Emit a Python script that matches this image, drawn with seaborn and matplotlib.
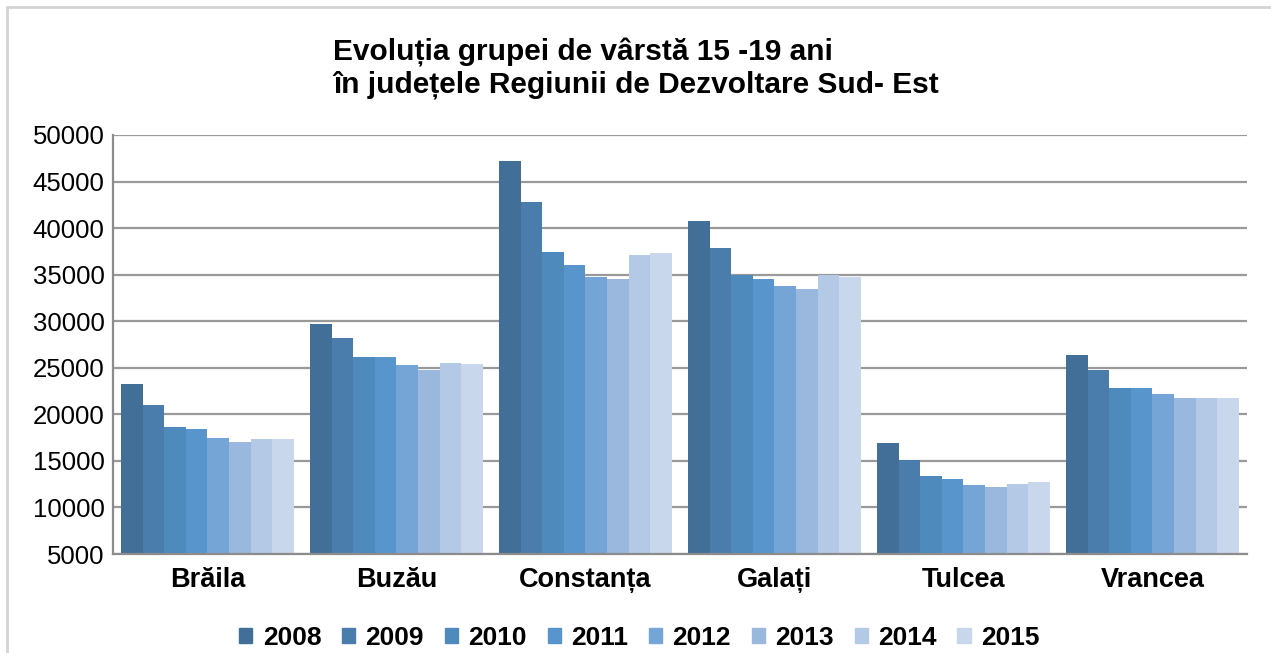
import pandas as pd
import matplotlib.pyplot as plt
import seaborn as sns
from matplotlib.patches import Rectangle

counties = ['Brăila', 'Buzău', 'Constanța', 'Galați', 'Tulcea', 'Vrancea']
years = ['2008', '2009', '2010', '2011', '2012', '2013', '2014', '2015']

braila = [23300, 21050, 18600, 18400, 17500, 17000, 17400, 17300]
buzau = [29750, 28250, 26200, 26200, 25250, 24750, 25550, 25450]
constanta = [47200, 42800, 37450, 36050, 34800, 34550, 37150, 37350]
galati = [40800, 37900, 35000, 34550, 33800, 33500, 34950, 34800]
tulcea = [16900, 15050, 13350, 13050, 12400, 12200, 12500, 12700]
vrancea = [26400, 24800, 22800, 22800, 22150, 21700, 21800, 21800]

colors = ['#416f98', '#4a7dab', '#4f8abd', '#5895cc',
          '#74a5d6', '#9ab8de', '#b4c9e5', '#c9d7ed']

values = [braila, buzau, constanta, galati, tulcea, vrancea]
rows = []
for county, vals in zip(counties, values):
    for year, v in zip(years, vals):
        rows.append({'Judet': county, 'An': year, 'Populatie': v})
df = pd.DataFrame(rows)

sns.set_style('white')
plt.rcParams['font.family'] = ['Liberation Sans', 'DejaVu Sans']
plt.rcParams['text.color'] = 'black'
plt.rcParams['xtick.color'] = 'black'
plt.rcParams['ytick.color'] = 'black'

fig = plt.figure(figsize=(12.71, 6.53), dpi=100)
ax = fig.add_axes([0.0889, 0.1516, 0.8922, 0.6417])

sns.barplot(data=df, x='Judet', y='Populatie', hue='An', palette=colors,
            width=0.915, gap=0, linewidth=0, saturation=1, ax=ax)

ax.set_ylim(5000, 50000)
ax.set_yticks(range(5000, 50001, 5000))
ax.set_yticklabels([str(t) for t in range(5000, 50001, 5000)], fontsize=18.5)
ax.set_xlim(-0.5, len(counties) - 0.5)
ax.set_xlabel('')
ax.set_ylabel('')
ax.tick_params(axis='x', labelsize=19.5, length=0, pad=9)
ax.tick_params(axis='y', length=0, pad=6)
for lbl in ax.get_xticklabels():
    lbl.set_fontweight('bold')

ax.yaxis.grid(True, color='#999999', linewidth=1.6)
ax.set_axisbelow(True)
for side in ['top', 'right']:
    ax.spines[side].set_visible(False)
for side in ['left', 'bottom']:
    ax.spines[side].set_color('#8c8c8c')
    ax.spines[side].set_linewidth(1.6)

ax.legend_.remove()
handles = [Rectangle((0, 0), 1, 1, color=c) for c in colors]
fig.legend(handles, years, loc='center', bbox_to_anchor=(0.503, 0.023),
           ncol=8, frameon=False, handlelength=0.5, handleheight=0.5,
           handletextpad=0.4, columnspacing=0.78,
           prop={'size': 19, 'weight': 'bold'})

fig.text(0.262, 0.942, 'Evoluția grupei de vârstă 15 -19 ani\nîn județele Regiunii de Dezvoltare Sud- Est',
         ha='left', va='top', fontsize=21.5, fontweight='bold', linespacing=1.15)

# light grey frame of the chart area (top and left edges visible)
fig.patches.append(Rectangle((7, -100), 1400, 746, transform=None, fill=False,
                             edgecolor='#d4d4d4', linewidth=2))

fig.savefig('out.png', dpi=100)
